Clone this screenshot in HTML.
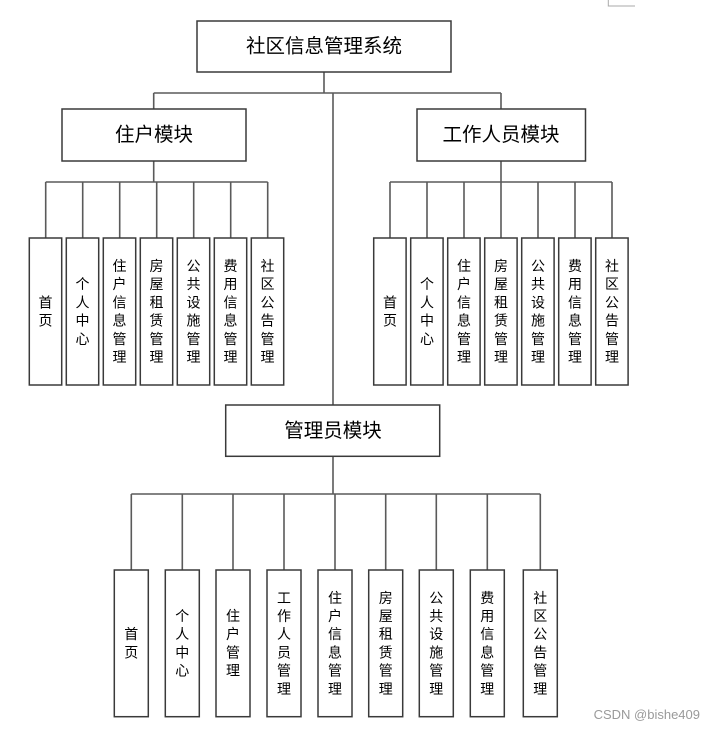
<!DOCTYPE html>
<html><head><meta charset="utf-8"><style>
html,body{margin:0;padding:0;background:#fff;}
svg{display:block;}
.t{font-family:"Liberation Sans","Noto Sans CJK SC",sans-serif;fill:#000;text-anchor:middle;dominant-baseline:central;}
.h{font-size:19.5px;}
.s{font-size:14px;}
</style></head><body>
<svg width="716" height="730" viewBox="0 0 716 730" xmlns="http://www.w3.org/2000/svg">
<g fill="none" stroke="#5a5a5a" stroke-width="1.6">
<path d="M324 72V93M153.7 93H501M153.7 93V109M501 93V109M333 93V405"/>
<path d="M153.7 161V182M45.7 182H267.7M45.7 182V238M82.7 182V238M119.7 182V238M156.7 182V238M193.7 182V238M230.7 182V238M267.7 182V238"/>
<path d="M501 161V182M390 182H612M390 182V238M427 182V238M464 182V238M501 182V238M538 182V238M575 182V238M612 182V238"/>
<path d="M333 456V494M131.3 494H540.3M131.3 494V570M182.3 494V570M233 494V570M284 494V570M335 494V570M385.7 494V570M436.3 494V570M487.3 494V570M540.3 494V570"/>
</g>
<g fill="#fff" stroke="#3a3a3a" stroke-width="1.5">
<rect x="197" y="21" width="254" height="51"/>
<rect x="62" y="109" width="184" height="52"/>
<rect x="417" y="109" width="168.5" height="52"/>
<rect x="225.7" y="405" width="214" height="51.3"/>
<rect x="29.3" y="238" width="32.4" height="147"/>
<rect x="66.3" y="238" width="32.4" height="147"/>
<rect x="103.3" y="238" width="32.4" height="147"/>
<rect x="140.3" y="238" width="32.4" height="147"/>
<rect x="177.3" y="238" width="32.4" height="147"/>
<rect x="214.3" y="238" width="32.4" height="147"/>
<rect x="251.3" y="238" width="32.4" height="147"/>
<rect x="373.7" y="238" width="32.4" height="147"/>
<rect x="410.7" y="238" width="32.4" height="147"/>
<rect x="447.7" y="238" width="32.4" height="147"/>
<rect x="484.7" y="238" width="32.4" height="147"/>
<rect x="521.7" y="238" width="32.4" height="147"/>
<rect x="558.7" y="238" width="32.4" height="147"/>
<rect x="595.7" y="238" width="32.4" height="147"/>
<rect x="114.3" y="570" width="34" height="146.7"/>
<rect x="165.3" y="570" width="34" height="146.7"/>
<rect x="216" y="570" width="34" height="146.7"/>
<rect x="267" y="570" width="34" height="146.7"/>
<rect x="318" y="570" width="34" height="146.7"/>
<rect x="368.7" y="570" width="34" height="146.7"/>
<rect x="419.3" y="570" width="34" height="146.7"/>
<rect x="470.3" y="570" width="34" height="146.7"/>
<rect x="523.3" y="570" width="34" height="146.7"/>
</g>
<path d="M608.3 0V6H635" fill="none" stroke="#aaa" stroke-width="1"/>
<text class="t h" x="324" y="46.5">社区信息管理系统</text>
<text class="t h" x="154" y="135">住户模块</text>
<text class="t h" x="501" y="135">工作人员模块</text>
<text class="t h" x="333" y="431">管理员模块</text>

<g class="t s">
<!-- left leaves -->
<text class="t s" x="45.5" y="302.4">首</text><text class="t s" x="45.5" y="320.6">页</text>
<text class="t s" x="82.5" y="284.2">个</text><text class="t s" x="82.5" y="302.4">人</text><text class="t s" x="82.5" y="320.6">中</text><text class="t s" x="82.5" y="338.8">心</text>
<text class="t s" x="119.5" y="266">住</text><text class="t s" x="119.5" y="284.2">户</text><text class="t s" x="119.5" y="302.4">信</text><text class="t s" x="119.5" y="320.6">息</text><text class="t s" x="119.5" y="338.8">管</text><text class="t s" x="119.5" y="357">理</text>
<text class="t s" x="156.5" y="266">房</text><text class="t s" x="156.5" y="284.2">屋</text><text class="t s" x="156.5" y="302.4">租</text><text class="t s" x="156.5" y="320.6">赁</text><text class="t s" x="156.5" y="338.8">管</text><text class="t s" x="156.5" y="357">理</text>
<text class="t s" x="193.5" y="266">公</text><text class="t s" x="193.5" y="284.2">共</text><text class="t s" x="193.5" y="302.4">设</text><text class="t s" x="193.5" y="320.6">施</text><text class="t s" x="193.5" y="338.8">管</text><text class="t s" x="193.5" y="357">理</text>
<text class="t s" x="230.5" y="266">费</text><text class="t s" x="230.5" y="284.2">用</text><text class="t s" x="230.5" y="302.4">信</text><text class="t s" x="230.5" y="320.6">息</text><text class="t s" x="230.5" y="338.8">管</text><text class="t s" x="230.5" y="357">理</text>
<text class="t s" x="267.5" y="266">社</text><text class="t s" x="267.5" y="284.2">区</text><text class="t s" x="267.5" y="302.4">公</text><text class="t s" x="267.5" y="320.6">告</text><text class="t s" x="267.5" y="338.8">管</text><text class="t s" x="267.5" y="357">理</text>
<!-- right leaves -->
<text class="t s" x="390" y="302.4">首</text><text class="t s" x="390" y="320.6">页</text>
<text class="t s" x="427" y="284.2">个</text><text class="t s" x="427" y="302.4">人</text><text class="t s" x="427" y="320.6">中</text><text class="t s" x="427" y="338.8">心</text>
<text class="t s" x="464" y="266">住</text><text class="t s" x="464" y="284.2">户</text><text class="t s" x="464" y="302.4">信</text><text class="t s" x="464" y="320.6">息</text><text class="t s" x="464" y="338.8">管</text><text class="t s" x="464" y="357">理</text>
<text class="t s" x="501" y="266">房</text><text class="t s" x="501" y="284.2">屋</text><text class="t s" x="501" y="302.4">租</text><text class="t s" x="501" y="320.6">赁</text><text class="t s" x="501" y="338.8">管</text><text class="t s" x="501" y="357">理</text>
<text class="t s" x="538" y="266">公</text><text class="t s" x="538" y="284.2">共</text><text class="t s" x="538" y="302.4">设</text><text class="t s" x="538" y="320.6">施</text><text class="t s" x="538" y="338.8">管</text><text class="t s" x="538" y="357">理</text>
<text class="t s" x="575" y="266">费</text><text class="t s" x="575" y="284.2">用</text><text class="t s" x="575" y="302.4">信</text><text class="t s" x="575" y="320.6">息</text><text class="t s" x="575" y="338.8">管</text><text class="t s" x="575" y="357">理</text>
<text class="t s" x="612" y="266">社</text><text class="t s" x="612" y="284.2">区</text><text class="t s" x="612" y="302.4">公</text><text class="t s" x="612" y="320.6">告</text><text class="t s" x="612" y="338.8">管</text><text class="t s" x="612" y="357">理</text>
<!-- bottom leaves -->
<text class="t s" x="131.3" y="634.2">首</text><text class="t s" x="131.3" y="652.4">页</text>
<text class="t s" x="182.3" y="616">个</text><text class="t s" x="182.3" y="634.2">人</text><text class="t s" x="182.3" y="652.4">中</text><text class="t s" x="182.3" y="670.6">心</text>
<text class="t s" x="233" y="616">住</text><text class="t s" x="233" y="634.2">户</text><text class="t s" x="233" y="652.4">管</text><text class="t s" x="233" y="670.6">理</text>
<text class="t s" x="284" y="597.8">工</text><text class="t s" x="284" y="616">作</text><text class="t s" x="284" y="634.2">人</text><text class="t s" x="284" y="652.4">员</text><text class="t s" x="284" y="670.6">管</text><text class="t s" x="284" y="688.8">理</text>
<text class="t s" x="335" y="597.8">住</text><text class="t s" x="335" y="616">户</text><text class="t s" x="335" y="634.2">信</text><text class="t s" x="335" y="652.4">息</text><text class="t s" x="335" y="670.6">管</text><text class="t s" x="335" y="688.8">理</text>
<text class="t s" x="385.7" y="597.8">房</text><text class="t s" x="385.7" y="616">屋</text><text class="t s" x="385.7" y="634.2">租</text><text class="t s" x="385.7" y="652.4">赁</text><text class="t s" x="385.7" y="670.6">管</text><text class="t s" x="385.7" y="688.8">理</text>
<text class="t s" x="436.3" y="597.8">公</text><text class="t s" x="436.3" y="616">共</text><text class="t s" x="436.3" y="634.2">设</text><text class="t s" x="436.3" y="652.4">施</text><text class="t s" x="436.3" y="670.6">管</text><text class="t s" x="436.3" y="688.8">理</text>
<text class="t s" x="487.3" y="597.8">费</text><text class="t s" x="487.3" y="616">用</text><text class="t s" x="487.3" y="634.2">信</text><text class="t s" x="487.3" y="652.4">息</text><text class="t s" x="487.3" y="670.6">管</text><text class="t s" x="487.3" y="688.8">理</text>
<text class="t s" x="540.3" y="597.8">社</text><text class="t s" x="540.3" y="616">区</text><text class="t s" x="540.3" y="634.2">公</text><text class="t s" x="540.3" y="652.4">告</text><text class="t s" x="540.3" y="670.6">管</text><text class="t s" x="540.3" y="688.8">理</text>
</g>
<text x="700" y="719" font-family="'Liberation Sans',sans-serif" font-size="13" fill="#9a9a9a" text-anchor="end">CSDN @bishe409</text>
</svg>
</body></html>
